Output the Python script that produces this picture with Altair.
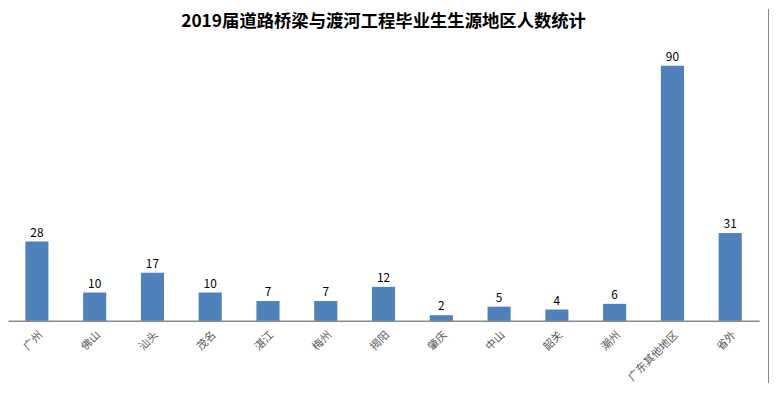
import altair as alt
import pandas as pd

categories = ["广州", "佛山", "汕头", "茂名", "湛江", "梅州", "揭阳", "肇庆", "中山", "韶关", "潮州", "广东其他地区", "省外"]
counts = [28, 10, 17, 10, 7, 7, 12, 2, 5, 4, 6, 90, 31]

df = pd.DataFrame({"region": categories, "count": counts})

FONT = "Noto Sans CJK SC"

base = alt.Chart(df).encode(
    x=alt.X("region:N", sort=categories,
            scale=alt.Scale(paddingInner=0.6, paddingOuter=0.3),
            axis=alt.Axis(title=None, labelAngle=-45, labelFontSize=11, labelColor="#595959",
                          labelFont=FONT, ticks=False, domainColor="#898989", domainWidth=1.5,
                          labelPadding=8, labelLimit=200)),
    y=alt.Y("count:Q", scale=alt.Scale(domain=[0, 100]), axis=None),
)

bars = base.mark_bar(color="#4F81BD")
labels = base.mark_text(dy=-9, fontSize=12, color="#000000", font=FONT).encode(text="count:Q")

border = alt.Chart(df).mark_rule(color="#888888", strokeWidth=2).encode(
    x=alt.value(768), y=alt.value(-28), y2=alt.value(348)
)

chart = alt.layer(bars, labels, border).properties(
    width=758, height=286,
    title=alt.TitleParams("2019届道路桥梁与渡河工程毕业生生源地区人数统计", fontSize=17.5,
                          font=FONT, fontWeight="bold", color="#000000", anchor="middle", offset=-22),
    autosize=alt.AutoSizeParams(type="none"),
    padding={"left": 0, "top": 28, "right": 10, "bottom": 62},
).configure_view(stroke=None)

chart.save("out.html", embed_options={"renderer": "svg", "actions": False})
